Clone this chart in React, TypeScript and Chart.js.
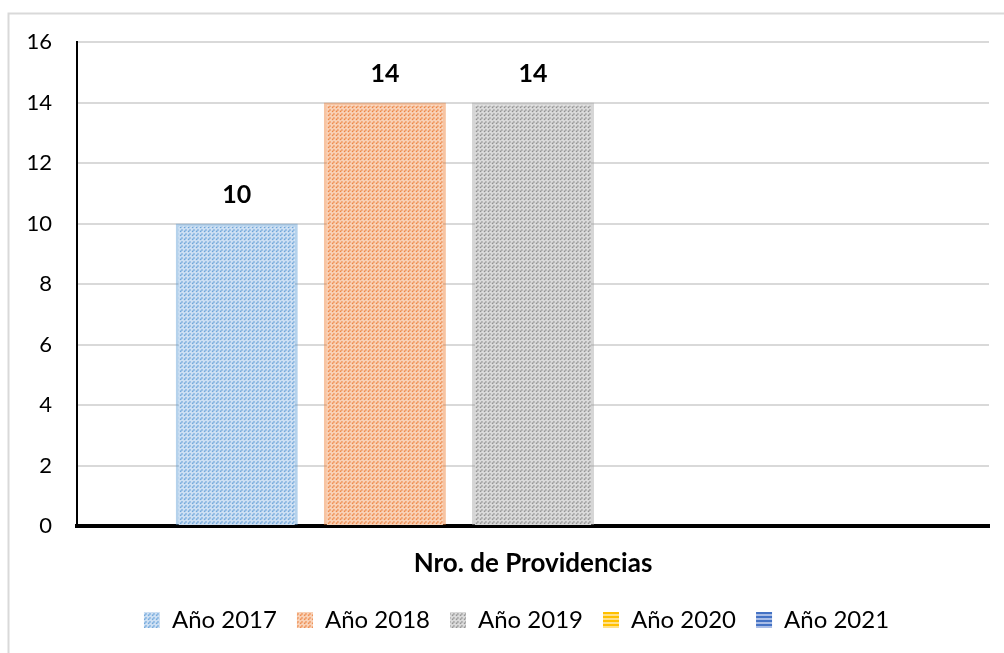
import React, { useEffect, useRef } from "react";
import { Chart, registerables } from "chart.js";

Chart.register(...registerables);

const categories = ["Nro. de Providencias"];
const seriesNames = ["Año 2017", "Año 2018", "Año 2019", "Año 2020", "Año 2021"];
const values2017 = [10];
const values2018 = [14];
const values2019 = [14];
const values2020: (number | null)[] = [null];
const values2021: (number | null)[] = [null];
const yTickValues = [0, 2, 4, 6, 8, 10, 12, 14, 16];

const FONT = "Lato";

function diagPattern(ctx: CanvasRenderingContext2D, bg: string, fg: string) {
  const c = document.createElement("canvas");
  c.width = 3;
  c.height = 3;
  const g = c.getContext("2d")!;
  g.fillStyle = bg;
  g.fillRect(0, 0, 3, 3);
  g.fillStyle = fg;
  g.fillRect(0, 2, 1, 1);
  g.fillRect(1, 1, 1, 1);
  const p = ctx.createPattern(c, "repeat")!;
  try {
    p.setTransform(new DOMMatrix().scale(1.333, 1.333));
  } catch (e) {}
  return p;
}

function stripePattern(ctx: CanvasRenderingContext2D, bg: string, fg: string) {
  const c = document.createElement("canvas");
  c.width = 4;
  c.height = 4;
  const g = c.getContext("2d")!;
  g.fillStyle = bg;
  g.fillRect(0, 0, 4, 4);
  g.fillStyle = fg;
  g.fillRect(0, 0, 4, 2);
  return ctx.createPattern(c, "repeat")!;
}

const framePlugin = {
  id: "frame",
  beforeDraw(chart: any) {
    const ctx = chart.ctx;
    ctx.save();
    ctx.fillStyle = "#ffffff";
    ctx.fillRect(0, 0, chart.width, chart.height);
    ctx.strokeStyle = "#d9d9d9";
    ctx.lineWidth = 2;
    ctx.strokeRect(8.5, 13.5, 1400, 1000);
    ctx.restore();
  },
  afterLayout(chart: any) {
    if (chart.legend) {
      chart.legend.left = 44;
    }
  },
};

const labelPlugin = {
  id: "valueLabels",
  afterDatasetsDraw(chart: any) {
    const ctx = chart.ctx;
    ctx.save();
    ctx.font = `bold 25px ${FONT}`;
    ctx.fillStyle = "#000000";
    ctx.textAlign = "center";
    ctx.textBaseline = "middle";
    chart.data.datasets.forEach((ds: any, i: number) => {
      const meta = chart.getDatasetMeta(i);
      meta.data.forEach((el: any, j: number) => {
        const v = ds.data[j];
        if (v === null || v === undefined) return;
        ctx.fillText(String(v), el.x, el.y - 29);
      });
    });
    ctx.restore();
  },
};

export default function App() {
  const ref = useRef<HTMLCanvasElement>(null);

  useEffect(() => {
    const canvas = ref.current!;
    const ctx = canvas.getContext("2d")!;
    const fills = [
      diagPattern(ctx, "#cfe1f4", "#4f93d2"),
      diagPattern(ctx, "#f9d3b9", "#ea7329"),
      diagPattern(ctx, "#dcdcdc", "#808080"),
      stripePattern(ctx, "#ffe08a", "#ffc000"),
      stripePattern(ctx, "#a9bde6", "#4472c4"),
    ];
    const edges = [
      "rgba(91,155,213,0.45)",
      "rgba(237,125,49,0.45)",
      "rgba(165,165,165,0.45)",
      "rgba(255,192,0,0.45)",
      "rgba(68,114,196,0.45)",
    ];
    const allValues = [values2017, values2018, values2019, values2020, values2021];

    const chart = new Chart(canvas, {
      type: "bar",
      data: {
        labels: categories,
        datasets: seriesNames.map((name, i) => ({
          label: name,
          data: allValues[i],
          backgroundColor: fills[i],
          borderColor: edges[i],
          borderWidth: 3,
          borderSkipped: "bottom",
          categoryPercentage: 0.812,
          barPercentage: 0.824,
        })),
      },
      options: {
        responsive: false,
        animation: false,
        layout: { padding: { left: 0, right: 15, top: 42, bottom: 11 } },
        plugins: {
          title: { display: false },
          tooltip: { enabled: false },
          legend: {
            position: "bottom",
            labels: {
              boxWidth: 16,
              boxHeight: 16,
              padding: 20,
              color: "#000000",
              font: { family: FONT, size: 24 },
              generateLabels: (c: any) =>
                Chart.defaults.plugins.legend.labels
                  .generateLabels(c)
                  .map((l: any) => ({ ...l, lineWidth: 0, strokeStyle: "rgba(0,0,0,0)" })),
            },
          },
        },
        scales: {
          x: {
            grid: { display: false, drawTicks: false },
            border: { display: true, color: "#000000", width: 4 },
            ticks: {
              color: "#000000",
              padding: 22,
              font: { family: FONT, size: 26, weight: "bold" },
            },
            afterFit: (s: any) => {
              s.height = 62;
            },
          },
          y: {
            min: 0,
            max: 16,
            afterBuildTicks: (s: any) => {
              s.ticks = yTickValues.map((v) => ({ value: v }));
            },
            grid: { color: "#d9d9d9", lineWidth: 2, drawTicks: false },
            border: { display: true, color: "#000000", width: 2 },
            ticks: {
              color: "#000000",
              padding: 25,
              font: { family: FONT, size: 22 },
            },
            afterFit: (s: any) => {
              s.width = 77;
            },
          },
        },
      },
      plugins: [framePlugin, labelPlugin],
    });
    return () => chart.destroy();
  }, []);

  return (
    <canvas
      ref={ref}
      width={1004}
      height={653}
      style={{ position: "fixed", left: 0, top: 0, display: "block" }}
    />
  );
}
